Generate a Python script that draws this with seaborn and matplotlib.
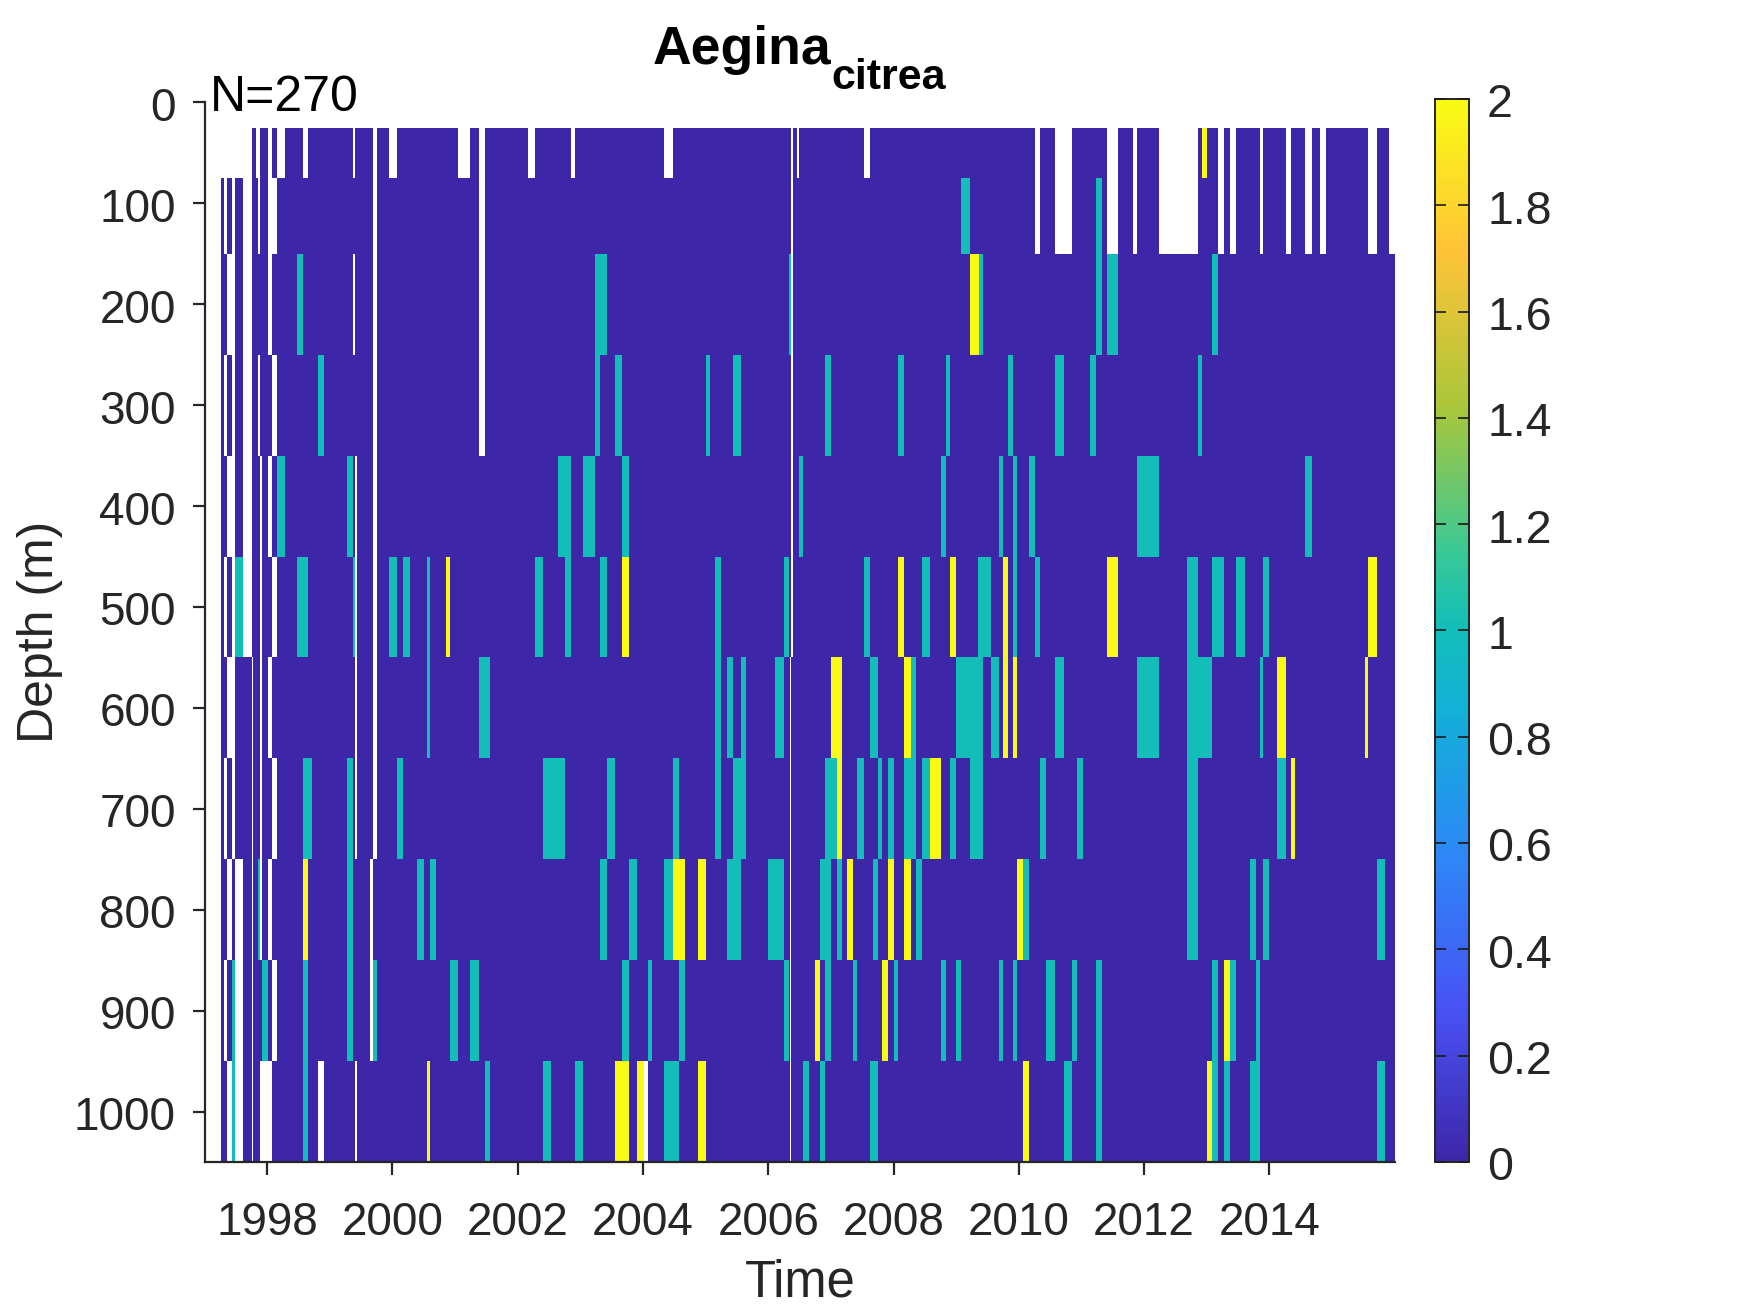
import numpy as np
import seaborn as sns
import matplotlib.pyplot as plt
from matplotlib.colors import LinearSegmentedColormap
from matplotlib.transforms import ScaledTranslation

# depth bin edges (m), and each bin as [start, end] in decimal years
depth_edges = [25, 75, 150, 250, 350, 450, 550, 650, 750, 850, 950, 1050]
year_ticks = [1998, 2000, 2002, 2004, 2006, 2008, 2010, 2012, 2014]
depth_ticks = [0, 100, 200, 300, 400, 500, 600, 700, 800, 900, 1000]
cbar_ticks = [0, 0.2, 0.4, 0.6, 0.8, 1, 1.2, 1.4, 1.6, 1.8, 2]
cbar_labels = ['0', '0.2', '0.4', '0.6', '0.8', '1', '1.2', '1.4', '1.6', '1.8', '2']

gaps_50 = [[1997.01, 1997.76], [1997.824, 1997.888], [1998.016, 1998.08], [1998.16, 1998.288],
           [1998.575, 1998.655], [1999.379, 1999.40], [1999.693, 1999.757], [1999.949, 2000.077],
           [2001.051, 2001.243], [2001.387, 2001.482], [2002.169, 2002.281], [2002.856, 2002.92],
           [2004.335, 2004.479], [2006.37, 2006.40], [2006.46, 2006.492], [2007.53, 2007.626],
           [2010.259, 2010.339], [2010.578, 2010.85], [2011.409, 2011.585], [2011.824, 2011.888],
           [2012.24, 2012.863], [2013.182, 2013.278], [2013.374, 2013.47], [2013.853, 2013.901],
           [2014.268, 2014.348], [2014.572, 2014.684], [2014.812, 2014.907], [2015.578, 2015.722],
           [2015.914, 2016.03]]
ones_50 = []
twos_50 = [[2012.927, 2013.006]]

gaps_100 = [[1997.01, 1997.265], [1997.313, 1997.361], [1997.441, 1997.489], [1997.617, 1997.76],
            [1997.856, 1997.888], [1998.016, 1998.16], [1999.693, 1999.757], [2001.387, 2001.482],
            [2006.37, 2006.40], [2010.259, 2010.339], [2010.578, 2010.85], [2011.409, 2011.585],
            [2011.824, 2011.888], [2012.24, 2012.863], [2013.182, 2013.278], [2013.374, 2013.47],
            [2013.853, 2013.901], [2014.268, 2014.348], [2014.572, 2014.684], [2014.812, 2014.907],
            [2015.578, 2015.722], [2015.914, 2016.03]]
ones_100 = [[2009.08, 2009.224], [2011.233, 2011.329]]
twos_100 = []

gaps_200 = [[1997.01, 1997.265], [1997.361, 1997.489], [1997.617, 1997.76], [1998.016, 1998.08],
            [1999.379, 1999.405], [1999.693, 1999.757], [2001.387, 2001.482], [2006.37, 2006.40]]
ones_200 = [[1998.479, 1998.575], [2003.24, 2003.431], [2006.332, 2006.37], [2009.36, 2009.431],
            [2011.233, 2011.329], [2011.409, 2011.585], [2013.086, 2013.182]]
twos_200 = [[2009.224, 2009.36]]

gaps_300 = [[1997.01, 1997.265], [1997.313, 1997.361], [1997.441, 1997.489], [1997.617, 1997.76],
            [1997.856, 1997.888], [1998.08, 1998.16], [1999.693, 1999.757], [2001.387, 2001.482],
            [2006.37, 2006.40]]
ones_300 = [[1998.815, 1998.911], [2003.24, 2003.319], [2003.553, 2003.665], [2005.006, 2005.07],
            [2005.438, 2005.565], [2006.907, 2007.003], [2008.073, 2008.169], [2008.84, 2008.904],
            [2009.831, 2009.911], [2010.578, 2010.722], [2011.137, 2011.233], [2012.863, 2012.927]]
twos_300 = []

gaps_400 = [[1997.01, 1997.265], [1997.361, 1997.489], [1997.617, 1997.76], [1997.888, 1997.92],
            [1998.016, 1998.08], [1999.411, 1999.438], [1999.693, 1999.757], [2006.37, 2006.40]]
ones_400 = [[1998.16, 1998.288], [1999.278, 1999.379], [2002.649, 2002.856], [2003.048, 2003.24],
            [2003.665, 2003.776], [2006.492, 2006.556], [2008.76, 2008.84], [2009.687, 2009.751],
            [2009.911, 2009.974], [2010.166, 2010.259], [2011.888, 2012.24], [2014.572, 2014.684]]
twos_400 = []

gaps_500 = [[1997.01, 1997.265], [1997.313, 1997.361], [1997.441, 1997.489], [1997.617, 1997.76],
            [1997.888, 1997.92], [1998.08, 1998.16], [1999.411, 1999.438], [1999.693, 1999.757],
            [2006.37, 2006.40]]
ones_500 = [[1997.489, 1997.617], [1998.479, 1998.655], [1999.379, 1999.411], [1999.949, 2000.077],
            [2000.173, 2000.284], [2000.556, 2000.604], [2002.281, 2002.409], [2002.76, 2002.856],
            [2003.319, 2003.431], [2005.15, 2005.246], [2006.252, 2006.332], [2007.53, 2007.626],
            [2008.457, 2008.585], [2009.351, 2009.559], [2009.911, 2009.974], [2010.262, 2010.339],
            [2012.687, 2012.863], [2013.086, 2013.278], [2013.47, 2013.613], [2013.901, 2013.997]]
twos_500 = [[2000.859, 2000.923], [2003.665, 2003.776], [2008.073, 2008.169], [2008.904, 2009.0],
            [2009.751, 2009.831], [2011.409, 2011.585], [2015.578, 2015.722]]

gaps_600 = [[1997.01, 1997.265], [1997.361, 1997.489], [1997.76, 1997.78], [1997.888, 1997.92],
            [1998.016, 1998.08], [1999.411, 1999.438], [1999.693, 1999.757], [2006.34, 2006.37]]
ones_600 = [[2000.556, 2000.604], [2001.387, 2001.562], [2005.15, 2005.246], [2005.342, 2005.438],
            [2005.565, 2005.645], [2006.109, 2006.252], [2007.626, 2007.754], [2008.281, 2008.361],
            [2009.0, 2009.431], [2009.559, 2009.687], [2010.578, 2010.722], [2011.888, 2012.24],
            [2012.687, 2013.086], [2013.853, 2013.901]]
twos_600 = [[2007.003, 2007.179], [2008.169, 2008.281], [2009.751, 2009.831], [2009.911, 2009.974],
            [2014.125, 2014.268], [2015.53, 2015.578]]

gaps_700 = [[1997.01, 1997.265], [1997.313, 1997.361], [1997.441, 1997.489], [1997.76, 1997.78],
            [1997.888, 1997.92], [1998.08, 1998.16], [1999.411, 1999.438], [1999.693, 1999.757],
            [2006.34, 2006.37]]
ones_700 = [[1998.575, 1998.719], [1999.278, 1999.379], [2000.077, 2000.173], [2002.409, 2002.76],
            [2003.431, 2003.559], [2004.479, 2004.575], [2005.15, 2005.246], [2005.438, 2005.645],
            [2006.907, 2007.099], [2007.419, 2007.53], [2007.754, 2007.818], [2007.914, 2008.01],
            [2008.169, 2008.361], [2008.457, 2008.585], [2008.904, 2009.0], [2009.224, 2009.431],
            [2010.339, 2010.434], [2010.93, 2011.026], [2012.687, 2012.863], [2014.125, 2014.268]]
twos_700 = [[2007.099, 2007.179], [2008.585, 2008.76], [2014.348, 2014.412]]

gaps_800 = [[1997.01, 1997.265], [1997.361, 1997.441], [1997.489, 1997.617], [1997.76, 1997.78],
            [1997.888, 1997.92], [1998.016, 1998.08], [1999.645, 1999.693], [2006.34, 2006.37]]
ones_800 = [[1997.856, 1997.888], [1999.278, 1999.379], [2000.396, 2000.508], [2000.604, 2000.70],
            [2003.319, 2003.431], [2003.776, 2003.904], [2004.335, 2004.479], [2005.342, 2005.565],
            [2005.997, 2006.252], [2006.828, 2007.003], [2007.099, 2007.179], [2007.674, 2007.754],
            [2008.361, 2008.457], [2010.07, 2010.166], [2012.687, 2012.863], [2013.693, 2013.789],
            [2013.901, 2013.997], [2015.722, 2015.85]]
twos_800 = [[1998.575, 1998.655], [2004.479, 2004.671], [2004.879, 2005.006], [2007.259, 2007.355],
            [2007.914, 2008.01], [2008.169, 2008.281], [2009.974, 2010.07]]

gaps_900 = [[1997.01, 1997.265], [1997.313, 1997.361], [1997.489, 1997.617], [1997.76, 1997.78],
            [1998.08, 1998.16], [1999.645, 1999.693], [2006.34, 2006.37]]
ones_900 = [[1997.441, 1997.489], [1997.92, 1998.016], [1998.575, 1998.655], [1999.278, 1999.379],
            [1999.693, 1999.757], [2000.923, 2001.051], [2001.243, 2001.387], [2003.665, 2003.776],
            [2004.08, 2004.144], [2004.575, 2004.671], [2006.252, 2006.332], [2006.907, 2007.003],
            [2007.355, 2007.419], [2008.01, 2008.073], [2008.76, 2008.84], [2009.0, 2009.08],
            [2009.687, 2009.751], [2009.911, 2009.974], [2010.434, 2010.578], [2010.85, 2010.93],
            [2011.233, 2011.329], [2013.086, 2013.182], [2013.374, 2013.47], [2013.789, 2013.853]]
twos_900 = [[2006.748, 2006.828], [2007.818, 2007.914], [2013.278, 2013.374]]

gaps_1000 = [[1997.01, 1997.265], [1997.361, 1997.441], [1997.489, 1997.617], [1997.76, 1997.78],
             [1997.888, 1998.08], [1998.815, 1998.911], [1999.411, 1999.438], [2004.016, 2004.08],
             [2006.34, 2006.37]]
ones_1000 = [[1997.441, 1997.489], [1998.575, 1998.655], [2001.482, 2001.562], [2002.409, 2002.537],
             [2002.92, 2003.048], [2004.335, 2004.575], [2006.556, 2006.652], [2006.828, 2006.907],
             [2007.626, 2007.754], [2010.722, 2010.85], [2011.233, 2011.329], [2013.086, 2013.182],
             [2013.278, 2013.374], [2013.693, 2013.853], [2015.722, 2015.85]]
twos_1000 = [[2000.556, 2000.604], [2003.553, 2003.776], [2003.904, 2004.016], [2004.879, 2005.006],
             [2010.07, 2010.166], [2013.006, 2013.086]]

all_gaps = [gaps_50, gaps_100, gaps_200, gaps_300, gaps_400, gaps_500, gaps_600, gaps_700, gaps_800, gaps_900, gaps_1000]
all_ones = [ones_50, ones_100, ones_200, ones_300, ones_400, ones_500, ones_600, ones_700, ones_800, ones_900, ones_1000]
all_twos = [twos_50, twos_100, twos_200, twos_300, twos_400, twos_500, twos_600, twos_700, twos_800, twos_900, twos_1000]

# MATLAB parula
parula = LinearSegmentedColormap.from_list('parula', [
    (0.0, (0.2422, 0.1504, 0.6603)),
    (1 / 7, (0.2810, 0.3228, 0.9579)),
    (2 / 7, (0.1786, 0.5289, 0.9682)),
    (3 / 7, (0.0689, 0.6948, 0.8394)),
    (0.5, (0.0704, 0.7457, 0.7258)),
    (4 / 7, (0.2161, 0.7843, 0.5923)),
    (5 / 7, (0.6720, 0.7793, 0.2227)),
    (6 / 7, (0.9970, 0.7659, 0.2199)),
    (1.0, (0.9769, 0.9839, 0.0805)),
])

# one column per pixel-ish, one row per 25 m
t0, t1 = 1997.01, 2016.0
dt = 1 / 62.65
centers = np.arange(t0, t1, dt) + dt / 2
dz = 25
grid = np.full((1050 // dz, len(centers)), np.nan)

for i in range(len(depth_edges) - 1):
    r0, r1 = depth_edges[i] // dz, depth_edges[i + 1] // dz
    row = np.zeros(len(centers))
    for a, b in all_ones[i]:
        row[(centers >= a) & (centers < b)] = 1
    for a, b in all_twos[i]:
        row[(centers >= a) & (centers < b)] = 2
    for a, b in all_gaps[i]:
        row[(centers >= a) & (centers < b)] = np.nan
    grid[r0:r1] = row

sns.set_style('white')
plt.rcParams['font.family'] = ['Liberation Sans', 'DejaVu Sans']
text_col = '#262626'

W, H = 1750, 1313
fig = plt.figure(figsize=(W / 100, H / 100), dpi=100)
ax = fig.add_axes([205 / W, 1 - 1162 / H, len(centers) * dt * 62.65 / W, 1059.5 / H])
cax = fig.add_axes([1435 / W, 1 - 1162 / H, 34 / W, 1063 / H])

sns.heatmap(grid, cmap=parula, vmin=0, vmax=2, ax=ax, cbar_ax=cax, xticklabels=False, yticklabels=False)

ax.set_xticks([(y - t0) / dt for y in year_ticks])
ax.set_xticklabels(year_ticks)
ax.set_yticks([d / dz for d in depth_ticks])
ax.set_yticklabels(depth_ticks, rotation=0)
ax.tick_params(axis='both', direction='out', length=9, width=1.6, color=text_col, labelcolor=text_col,
               labelsize=33, bottom=True, left=True)
ax.tick_params(axis='x', pad=19)
ax.tick_params(axis='y', pad=12)
for side in ['left', 'bottom']:
    ax.spines[side].set_visible(True)
    ax.spines[side].set_color(text_col)
    ax.spines[side].set_linewidth(1.6)

ax.set_xlabel('Time', fontsize=36.5, color=text_col, labelpad=10)
ax.set_ylabel('Depth (m)', fontsize=36, color=text_col, labelpad=8)

cbar = ax.collections[0].colorbar
cbar.set_ticks(cbar_ticks)
cbar.set_ticklabels(cbar_labels)
# seaborn's white style puts ticks under the colour strip
cax.set_axisbelow(False)
cax.tick_params(axis='y', direction='in', length=8, width=1.2, left=True, right=True, color='#1a1a1a',
                labelcolor=text_col, labelsize=33.5, pad=13)
cbar.outline.set_visible(True)
cbar.outline.set_edgecolor('#262626')
cbar.outline.set_linewidth(1.4)

# Liberation sits a little high against the reference's Helvetica
nudge = ScaledTranslation(0, -1 / 72, fig.dpi_scale_trans)
for lab in ax.get_yticklabels() + cax.get_yticklabels():
    lab.set_transform(lab.get_transform() + nudge)

fig.text(653 / W, 1 - 64 / H, 'Aegina', fontsize=38.5, fontweight='bold', color='black', va='baseline')
fig.text(831 / W, 1 - 89 / H, 'citrea', fontsize=31, fontweight='bold', color='black', va='baseline')
fig.text(210 / W, 1 - 111 / H, 'N=270', fontsize=36, color='black', va='baseline')

fig.savefig('out.png', dpi=100)
